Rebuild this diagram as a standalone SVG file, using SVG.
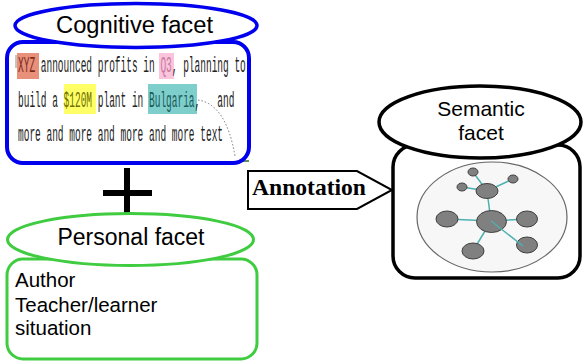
<svg xmlns="http://www.w3.org/2000/svg" width="584" height="362" viewBox="0 0 584 362">
<style>
.sans{font-family:"Liberation Sans",Arial,sans-serif;fill:#000}
.mono{font-family:"Liberation Mono","Courier New",monospace;font-size:23px;fill:#222}
.edge{stroke:#4fb0b0;stroke-width:1.5;fill:none}
.nd{fill:#808080;stroke:#404040;stroke-width:1}
</style>
<rect width="584" height="362" fill="#fff"/>

<g id="cognitive">
  <line x1="20" y1="161" x2="249" y2="161" stroke="#5f8f5f" stroke-width="2"/>
  <rect x="7" y="42" width="242" height="121" rx="16" fill="#fff" stroke="#0000ee" stroke-width="4"/>
  <ellipse cx="136" cy="25.5" rx="121" ry="22" fill="#fff" stroke="#0000ee" stroke-width="3.5"/>
  <text class="sans" x="56" y="33" font-size="23" textLength="157" lengthAdjust="spacingAndGlyphs">Cognitive facet</text>
  <rect x="17" y="53" width="22" height="26" fill="#e8907a"/>
  <rect x="159" y="53" width="15" height="26" fill="#f9c4dc"/>
  <rect x="64" y="84" width="32" height="30" fill="#ffff66"/>
  <rect x="148" y="84" width="49" height="30" fill="#7ecfcc"/>
  <line x1="16" y1="55" x2="16" y2="68" stroke="#888" stroke-width="1"/>
  <g transform="translate(18,0) scale(0.41304,1)">
    <text class="mono" x="0" y="72" xml:space="preserve"><tspan style="fill:#7a2a1a">XYZ</tspan> announced profits in <tspan style="fill:#c878a0">Q3</tspan>, planning to</text>
    <text class="mono" x="0" y="107" xml:space="preserve">build a <tspan style="fill:#707000">$120M</tspan> plant in <tspan style="fill:#1a5a5a">Bulgaria</tspan>,   and</text>
    <text class="mono" x="0" y="141">more and more and more and more text</text>
  </g>
  <path d="M198,100 Q226,104 235,156" fill="none" stroke="#777" stroke-width="1" stroke-dasharray="1.5,2"/>
</g>

<g id="plus">
  <line x1="127" y1="168" x2="127" y2="217" stroke="#000" stroke-width="6"/>
  <line x1="103" y1="193" x2="152" y2="193" stroke="#000" stroke-width="6"/>
</g>

<g id="personal">
  <rect x="7" y="259" width="250" height="100" rx="16" fill="#fff" stroke="#40cc40" stroke-width="3"/>
  <ellipse cx="130.5" cy="239.5" rx="123" ry="26" fill="#fff" stroke="#40cc40" stroke-width="3"/>
  <text class="sans" x="131" y="245" font-size="23" text-anchor="middle">Personal facet</text>
  <text class="sans" x="15" y="287" font-size="20.5">Author</text>
  <text class="sans" x="15" y="312" font-size="20.5">Teacher/learner</text>
  <text class="sans" x="15" y="335" font-size="20.5">situation</text>
</g>

<g id="semantic">
  <rect x="393" y="145" width="187" height="133" rx="22" fill="#fff" stroke="#000" stroke-width="3.5"/>
  <ellipse cx="480" cy="122" rx="101" ry="36" fill="#fff" stroke="#000" stroke-width="3.5"/>
  <text class="sans" x="481" y="116" font-size="21" text-anchor="middle">Semantic</text>
  <text class="sans" x="481" y="140" font-size="21" text-anchor="middle">facet</text>
  <ellipse cx="492" cy="217" rx="75" ry="55" fill="#f7f7f7" stroke="#666" stroke-width="1.2"/>
  <g id="graph-edges">
    <line class="edge" x1="491" y1="221" x2="487" y2="191"/>
    <line class="edge" x1="487" y1="191" x2="473" y2="172"/>
    <line class="edge" x1="487" y1="191" x2="462" y2="187"/>
    <line class="edge" x1="487" y1="191" x2="513" y2="179"/>
    <line class="edge" x1="491" y1="221" x2="447" y2="219"/>
    <line class="edge" x1="491" y1="221" x2="527" y2="219"/>
    <line class="edge" x1="491" y1="221" x2="473" y2="251"/>
  </g>
  <ellipse class="nd" cx="491.5" cy="221.5" rx="15" ry="11"/>
  <ellipse class="nd" cx="487" cy="191" rx="11" ry="7.5"/>
  <ellipse class="nd" cx="473" cy="172" rx="5" ry="4"/>
  <ellipse class="nd" cx="462" cy="187" rx="5" ry="4"/>
  <ellipse class="nd" cx="513" cy="179" rx="5" ry="4"/>
  <ellipse class="nd" cx="447" cy="219" rx="11" ry="8"/>
  <ellipse class="nd" cx="527" cy="219" rx="10.5" ry="8"/>
  <ellipse class="nd" cx="473" cy="251" rx="11" ry="8"/>
  <ellipse class="nd" cx="527" cy="245" rx="10.5" ry="8"/>
  <line class="edge" x1="491" y1="221" x2="523" y2="246"/>
</g>

<g id="connectors">
  <g id="annotation">
    <polygon points="248,171 357,171 392,190 357,209 248,209" fill="#fff" stroke="#000" stroke-width="2"/>
    <text x="252" y="195" font-family="'Liberation Serif','Times New Roman',serif" font-weight="bold" font-size="23.5" textLength="114" lengthAdjust="spacingAndGlyphs">Annotation</text>
  </g>
</g>
</svg>
